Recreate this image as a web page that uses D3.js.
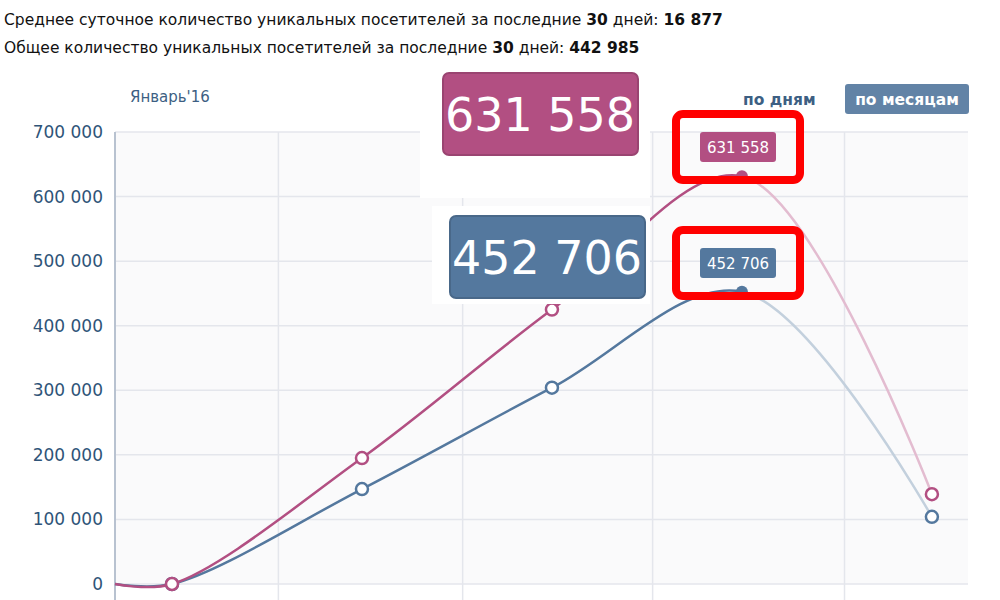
<!DOCTYPE html>
<html lang="ru">
<head>
<meta charset="UTF-8">
<script src="https://d3js.org/d3.v7.min.js"></script>
<style>
  body { margin: 0; background: #fff; font-family: Verdana, "DejaVu Sans", sans-serif; }
</style>
</head>
<body>
<svg id="chart" width="1000" height="600"></svg>
<script>
  // data
  const steps = [-0.3, 0, 1, 2, 3, 4];   // first step is the flat lead-in from the axis
  const pinkValues = [0, 0, 195000, 425000, 631558, 139000];
  const blueValues = [0, 0, 147000, 304000, 452706, 104000];
  const yTicks = [0, 100000, 200000, 300000, 400000, 500000, 600000, 700000];
  const xGrid = [0.56, 1.53, 2.53, 3.54];

  const pink = "#b24f82", blue = "#54789e", ink = "#2f5478";
  const svg = d3.select("#chart");
  const x = d3.scaleLinear().domain([-0.3, 4.19]).range([115, 968]);
  const y = d3.scaleLinear().domain([0, 700000]).range([584, 132]);
  const fmt = v => d3.format(",")(v).replace(/,/g, " ");

  // header lines
  const head = [
    ["Среднее суточное количество уникальных посетителей за последние ", "30", " дней: ", "16 877"],
    ["Общее количество уникальных посетителей за последние ", "30", " дней: ", "442 985"]
  ];
  head.forEach((h, i) => {
    const t = svg.append("text").attr("x", 4).attr("y", 25 + i * 28)
      .attr("font-size", 15.5).attr("fill", "#111");
    h.forEach((s, j) => t.append("tspan").attr("font-weight", j % 2 ? "bold" : "normal").text(s));
  });

  // plot background and grid
  svg.append("rect").attr("x", 115).attr("y", 132).attr("width", 853).attr("height", 452).attr("fill", "#fafafb");
  svg.selectAll(".hg").data(yTicks).join("line")
    .attr("x1", 115).attr("x2", 968).attr("y1", d => y(d)).attr("y2", d => y(d))
    .attr("stroke", "#e4e6ec").attr("stroke-width", 1.5);
  svg.selectAll(".vg").data(xGrid).join("line")
    .attr("x1", d => x(d)).attr("x2", d => x(d)).attr("y1", 132).attr("y2", 600)
    .attr("stroke", "#e4e6ec").attr("stroke-width", 1.5);
  svg.append("line").attr("x1", 115).attr("x2", 115).attr("y1", 132).attr("y2", 600)
    .attr("stroke", "#b8c2d0").attr("stroke-width", 2);

  svg.selectAll(".yl").data(yTicks).join("text")
    .attr("x", 103).attr("y", d => y(d) + 6).attr("text-anchor", "end")
    .attr("font-size", 17).attr("fill", ink).text(fmt);

  // lines: solid up to the peak, faded after it
  const line = d3.line().x(d => x(d[0])).y(d => y(d[1])).curve(d3.curveCatmullRom);
  function series(vals, col, faded) {
    const pts = steps.map((s, i) => [s, vals[i]]);
    const path = svg.append("path").attr("d", line(pts)).attr("fill", "none")
      .attr("stroke-width", 2.5);
    // fade the segment after the peak with a gradient
    const id = "g" + col.slice(1);
    const g = svg.append("defs").append("linearGradient").attr("id", id)
      .attr("gradientUnits", "userSpaceOnUse").attr("x1", 115).attr("x2", 968);
    const cut = (x(3) - 115) / 853;
    g.append("stop").attr("offset", cut).attr("stop-color", col);
    g.append("stop").attr("offset", cut).attr("stop-color", faded);
    path.attr("stroke", `url(#${id})`);
    svg.selectAll(null).data(pts.slice(1).filter(p => p[0] !== 3)).join("circle")
      .attr("cx", d => x(d[0])).attr("cy", d => y(d[1])).attr("r", 6)
      .attr("fill", "#fff").attr("stroke", col).attr("stroke-width", 2.5);
    svg.append("circle").attr("cx", x(3)).attr("cy", y(vals[4])).attr("r", 6).attr("fill", col);
  }
  series(blueValues, blue, "#c3d0dd");
  series(pinkValues, pink, "#e3bcd0");

  // pasted zoom patches
  svg.append("rect").attr("x", 420).attr("y", 64).attr("width", 230).attr("height", 134).attr("fill", "#fff");
  svg.append("rect").attr("x", 432).attr("y", 206).attr("width", 218).attr("height", 98).attr("fill", "#fff");
  function bigBox(yv, col, x0, y0) {
    svg.append("rect").attr("x", x0).attr("y", y0).attr("width", 195).attr("height", 82)
      .attr("rx", 6).attr("fill", col).attr("stroke", d3.color(col).darker(0.4)).attr("stroke-width", 2);
    svg.append("text").attr("x", x0 + 97).attr("y", y0 + 58).attr("text-anchor", "middle")
      .attr("font-size", 46).attr("fill", "#fff").text(fmt(yv));
  }
  bigBox(pinkValues[4], pink, 443, 73);
  bigBox(blueValues[4], blue, 450, 216);

  // small value tags with red highlight frames
  function tag(v, col, y0) {
    svg.append("rect").attr("x", 700).attr("y", y0).attr("width", 76).attr("height", 30)
      .attr("rx", 3).attr("fill", col);
    svg.append("text").attr("x", 738).attr("y", y0 + 21).attr("text-anchor", "middle")
      .attr("font-size", 15).attr("fill", "#fff").text(fmt(v));
    svg.append("rect").attr("x", 676).attr("y", y0 - 18).attr("width", 124).attr("height", 66)
      .attr("rx", 7).attr("fill", "none").attr("stroke", "#f00").attr("stroke-width", 8);
  }
  tag(pinkValues[4], pink, 132);
  tag(blueValues[4], blue, 248);

  // header controls
  svg.append("text").attr("x", 130).attr("y", 102).attr("font-size", 15).attr("fill", "#3d5f83").text("Январь'16");
  svg.append("text").attr("x", 743).attr("y", 105).attr("font-size", 15.5).attr("font-weight", "bold")
    .attr("fill", "#3d5f83").text("по дням");
  svg.append("rect").attr("x", 845).attr("y", 84).attr("width", 124).attr("height", 30).attr("rx", 3).attr("fill", "#6283a6");
  svg.append("text").attr("x", 907).attr("y", 105).attr("text-anchor", "middle").attr("font-size", 15.5)
    .attr("font-weight", "bold").attr("fill", "#fff").text("по месяцам");
</script>
</body>
</html>
